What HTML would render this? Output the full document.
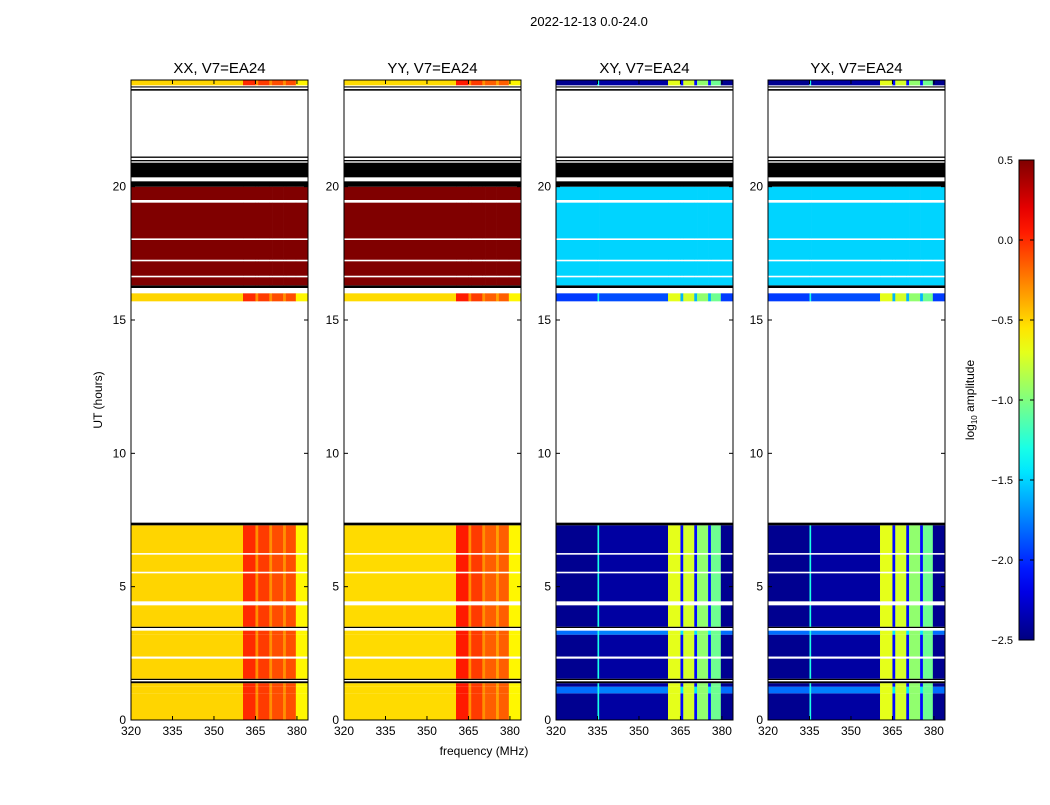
<!DOCTYPE html>
<html><head><meta charset="utf-8"><style>
body{margin:0;background:#fff;font-family:"Liberation Sans",sans-serif}
svg text{font-family:"Liberation Sans",sans-serif}
</style></head><body>
<svg id="fig" width="1050" height="800" xmlns="http://www.w3.org/2000/svg">
<text x="589" y="26" font-size="13" text-anchor="middle">2022-12-13 0.0-24.0</text>
<text x="102" y="400" font-size="12" text-anchor="middle" transform="rotate(-90 102 400)">UT (hours)</text>
<text x="484" y="755" font-size="12" text-anchor="middle">frequency (MHz)</text>
<g id="panels"></g>
<g id="cbar"></g>
</svg>
<script>
const panelNames=["XX, V7=EA24","YY, V7=EA24","XY, V7=EA24","YX, V7=EA24"];
const panelCross=[false,false,true,true];
const xTicks=[320,335,350,365,380];
const yTicks=[0,5,10,15,20];
const cbTicks=[0.5,0.0,-0.5,-1.0,-1.5,-2.0,-2.5];
// frequency profiles [fStart,fEnd,log10 amp]
const profXX=[[320,360.5,-0.5],[360.5,365,0.0],[365,366,-0.3],[366,370,-0.05],[370,371,-0.3],[371,375,-0.1],[375,376,-0.3],[376,379.6,-0.1],[379.6,384,-0.6]];
const profYY=[[320,360.5,-0.52],[360.5,365,0.05],[365,366,-0.3],[366,370,-0.05],[370,371,-0.3],[371,375,-0.15],[375,376,-0.35],[376,379.6,-0.15],[379.6,384,-0.6]];
const profXY=[[320,335,-2.45],[335,335.6,-1.3],[335.6,360.5,-2.4],[360.5,365,-0.7],[365,366,-2.1],[366,370,-0.75],[370,371,-2.1],[371,375,-0.95],[375,376,-2.1],[376,379.6,-1.05],[379.6,384,-2.45]];
const profYX=[[320,335,-2.45],[335,335.6,-1.3],[335.6,360.5,-2.4],[360.5,365,-0.7],[365,366,-2.1],[366,370,-0.75],[370,371,-2.1],[371,375,-0.95],[375,376,-2.1],[376,379.6,-1.05],[379.6,384,-2.45]];
const profiles=[profXX,profYY,profXY,profYX];
// time bands [hStart,hEnd,state,offsetParallel,offsetCrossBackground]
const bands=[[0,1.0,'d',0,0],[1.0,1.25,'d',0,0.65],[1.25,1.38,'d',0,0],[1.38,1.45,'k',0,0],[1.45,1.5,'w',0,0],[1.5,1.55,'k',0,0],
[1.55,2.3,'d',0,0],[2.3,2.38,'w',0,0],[2.38,3.2,'d',0,0],[3.2,3.35,'d',0,0.65],[3.35,3.45,'w',0,0],[3.45,3.5,'k',0,0],
[3.5,4.3,'d',0,0],[4.3,4.45,'w',0,0],[4.45,5.5,'d',0,0],[5.5,5.56,'w',0,0],[5.56,6.2,'d',0,0],[6.2,6.26,'w',0,0],
[6.26,7.3,'d',0,0],[7.3,7.4,'k',0,0],[15.7,16.0,'d',0,0.5],[16.2,16.3,'k',0,0],
[16.3,16.6,'s',0,0],[16.6,16.66,'w',0,0],[16.66,17.2,'s',0,0],[17.2,17.26,'w',0,0],[17.26,18.0,'s',0,0],[18.0,18.06,'w',0,0],
[18.06,19.4,'s',0,0],[19.4,19.5,'w',0,0],[19.5,20.0,'s',0,0],[20.0,20.2,'k',0,0],[20.35,20.9,'k',0,0],
[20.95,21.0,'k',0,0],[21.08,21.13,'k',0,0],[23.6,23.66,'k',0,0],[23.72,23.76,'k',0,0],[23.8,24,'d',0,0]];
const vmin=-2.5,vmax=0.5;
const panelX=[131,344,556,768],panelW=177,pTop=80,pBot=720;
function fx(p,f){return panelX[p]+(f-320)*(panelW/64);}
function hy(h){return pBot-(h/24)*(pBot-pTop);}
function jet(v){let t=(v-vmin)/(vmax-vmin);t=Math.max(0,Math.min(1,t));
 const c=x=>Math.round(255*Math.max(0,Math.min(1,1.5-Math.abs(4*t-x))));
 return `rgb(${c(3)},${c(2)},${c(1)})`;}
const NS="http://www.w3.org/2000/svg";
function mk(tag,attrs,parent){const e=document.createElementNS(NS,tag);for(const k in attrs)e.setAttribute(k,attrs[k]);parent.appendChild(e);return e;}
const G=document.getElementById('panels');
for(let p=0;p<4;p++){
 const g=mk('g',{},G);
 
 
 const t=mk('text',{x:panelX[p]+panelW/2,y:73,'font-size':15,'text-anchor':'middle'},g);t.textContent=panelNames[p];
 
 
 for(const b of bands){
  const y1=hy(b[1]),y0=hy(b[0]),hgt=Math.max(0.8,y0-y1);
  if(b[2]==='w')continue;
  if(b[2]==='k'){const r=mk('rect',{x:panelX[p],y:y1,width:panelW,height:hgt,fill:'#000'},g);
   
   continue;}
  for(const s of profiles[p]){
   let v;
   if(b[2]==='s') v=panelCross[p]?-1.5:0.5;
   else if(panelCross[p]) v=s[2]<-1.5?s[2]+b[4]:s[2];
   else v=s[2]+b[3];
   const r=mk('rect',{x:fx(p,s[0]),y:y1,width:fx(p,s[1])-fx(p,s[0])+0.3,height:hgt,fill:jet(v)},g);
   
   
  }
 }
 const fr=mk('rect',{x:panelX[p],y:pTop,width:panelW,height:pBot-pTop,fill:'none',stroke:'#000','stroke-width':1},g);
 
 
 for(const f of xTicks){const x=fx(p,f);
  mk('line',{x1:x,x2:x,y1:pBot,y2:pBot-4,stroke:'#000'},g);mk('line',{x1:x,x2:x,y1:pTop,y2:pTop+4,stroke:'#000'},g);
  const tt=mk('text',{x:x,y:pBot+15,'font-size':12,'text-anchor':'middle'},g);tt.textContent=f;
  
  }
 for(const h of yTicks){const y=hy(h);
  mk('line',{x1:panelX[p],x2:panelX[p]+4,y1:y,y2:y,stroke:'#000'},g);mk('line',{x1:panelX[p]+panelW,x2:panelX[p]+panelW-4,y1:y,y2:y,stroke:'#000'},g);
  const tt=mk('text',{x:panelX[p]-5,y:y+4,'font-size':12,'text-anchor':'end'},g);tt.textContent=h;
  
  }
}
// colorbar
const C=document.getElementById('cbar');const cx=1019,cw=15,cTop=160,cBot=640;
const defs=mk('defs',{},C);const lg=mk('linearGradient',{id:'jg',x1:0,y1:1,x2:0,y2:0},defs);
for(let i=0;i<=20;i++){mk('stop',{offset:i/20,'stop-color':jet(vmin+(vmax-vmin)*i/20)},lg);}
mk('rect',{x:cx,y:cTop,width:cw,height:cBot-cTop,fill:'url(#jg)',stroke:'#000'},C);
for(const v of cbTicks){const y=cBot-(v-vmin)/(vmax-vmin)*(cBot-cTop);
 mk('line',{x1:cx,x2:cx+4,y1:y,y2:y,stroke:'#000'},C);mk('line',{x1:cx+cw,x2:cx+cw-4,y1:y,y2:y,stroke:'#000'},C);
 const tt=mk('text',{x:cx-6,y:y+4,'font-size':11,'text-anchor':'end'},C);tt.textContent=(v<0?'\u2212':'')+Math.abs(v).toFixed(1);
 
 }
const lb=mk('text',{x:974,y:400,'font-size':12,'text-anchor':'middle',transform:'rotate(-90 974 400)'},C);
lb.innerHTML='log<tspan font-size="8" dy="3">10</tspan><tspan dy="-3"> amplitude</tspan>';


</script>
</body></html>
